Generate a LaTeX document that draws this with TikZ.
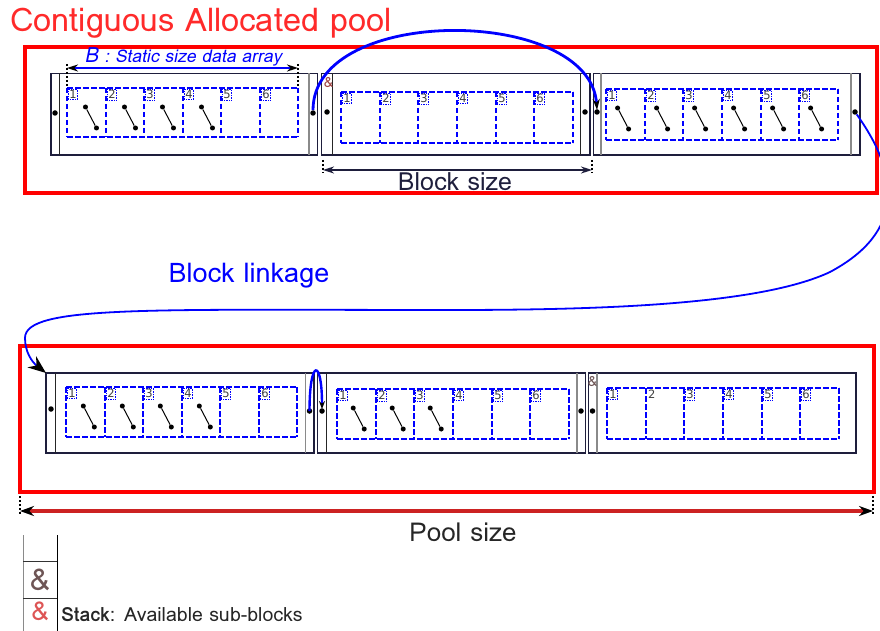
\documentclass[tikz,border=0pt]{standalone}
\usepackage{fontspec}
\usetikzlibrary{arrows.meta}
\newfontfamily\loma{Loma}
\newfontfamily\lomait[FakeSlant=0.2]{Loma}
\newfontfamily\dejavu{DejaVu Sans}
\definecolor{pred}{HTML}{FF0000}
\definecolor{tred}{HTML}{FF2A2A}
\definecolor{pblue}{HTML}{0000FF}
\definecolor{navy}{HTML}{1E1E3C}
\definecolor{ampc}{HTML}{A04545}
\definecolor{ampdark}{HTML}{6E5555}
\definecolor{ampred}{HTML}{DD5555}
\definecolor{poolred}{HTML}{CC2222}
\definecolor{linegray}{HTML}{8A8A8A}
\tikzset{
  poolbox/.style={draw=pred, line width=4pt, inner sep=0pt, outer sep=0pt, anchor=north west},
  blk/.style={draw=navy, line width=1.3pt, fill=white, inner sep=0pt, outer sep=0pt, anchor=north west},
  subline/.style={draw=pblue, line width=1.8pt, dash pattern=on 5.5pt off 2.5pt, line cap=butt},
  numbox/.style={draw=pblue, densely dotted, line width=0.7pt, inner sep=1pt, font=\dejavu\fontsize{11.5}{11.5}\selectfont, text=black!75, anchor=north west, fill=white},
  numplain/.style={inner sep=1pt, font=\dejavu\fontsize{11.5}{11.5}\selectfont, text=black!75, anchor=north west},
  bdot/.style={circle, fill=black, inner sep=0pt, minimum size=5.5pt},
  sdot/.style={circle, fill=black, inner sep=0pt, minimum size=5pt},
  darkline/.style={draw=black!85, line width=0.9pt},
  grayline/.style={draw=linegray, line width=1.1pt},
  dimdots/.style={draw=black, line width=2pt, dotted},
  bighead/.style={-{Stealth[black,length=18pt,width=14pt]}},
  amp/.style={font=\loma\fontsize{14}{14}\selectfont, text=ampc, inner sep=0pt},
}
% sub-block row: #1 prefix, #2 sx1, #3 sy1, #4 sx2, #5 sy2, #6 number of diagonals, #7 diag fraction, #8 index without box
\newcommand\subrow[8]{%
  \pgfmathsetmacro\sw{(#4-#2)/6}%
  \draw[subline] (#2,#3) -- (#4,#3);
  \draw[subline] (#2,#5) -- (#4,#5);
  \foreach \k in {0,...,6}{%
    \pgfmathsetmacro\xk{round(#2+\k*\sw)}%
    \draw[subline] (\xk,#3) -- (\xk,#5);
  }%
  \foreach \i in {1,...,6}{%
    \pgfmathsetmacro\xa{round(#2+(\i-1)*\sw)}%
    \ifnum\i=#8\relax
      \node[numplain] (#1n\i) at (\xa+1,#3+1) {\i};
    \else
      \node[numbox] (#1n\i) at (\xa+1,#3+1) {\i};
    \fi
    \ifnum\i>#6\relax\else
      \node[sdot] (#1p\i) at (\xa+#7*\sw,#3+19) {};
      \node[sdot] (#1q\i) at (\xa+#7*\sw+11,#3+40) {};
      \draw[line width=1pt] (#1p\i) -- (#1q\i);
    \fi
  }%
}
\newcommand\blockbox[5]{%
  \pgfmathsetmacro\bw{#4-#2}\pgfmathsetmacro\bh{#5-#3}%
  \node[blk, minimum width=\bw pt, minimum height=\bh pt] (#1) at (#2,#3) {};
}
\begin{document}
\begin{tikzpicture}[x=1pt,y=-1pt]
\useasboundingbox (0,0) rectangle (880,631);
\clip (0,0) rectangle (880,631);

% title
\node[anchor=west, text=tred, font=\loma\fontsize{32.5}{32.5}\selectfont, inner sep=0pt] (title) at (10,23) {Contiguous Allocated pool};

% pools
\node[poolbox, minimum width=852pt, minimum height=146pt] (toppool) at (25,47) {};
\node[poolbox, minimum width=854pt, minimum height=146pt] (botpool) at (20,346) {};

% ---------- top blocks ----------
\blockbox{B1}{51}{73.5}{317.5}{155}
\draw[darkline] (59,73.5) -- (59,155);
\draw[grayline] (309,73.5) -- (309,155);
\node[bdot] (B1l) at (55,113) {};
\node[bdot] (B1r) at (313,113) {};
\subrow{b1}{67}{88}{298}{137}{4}{0.48}{0}

\blockbox{B2}{321.5}{73.5}{590}{155}
\draw[darkline] (332,73.5) -- (332,155);
\draw[darkline] (580,73.5) -- (580,155);
\node[bdot] (B2l) at (327,112) {};
\node[bdot] (B2r) at (585,112) {};
\node[amp] (B2amp) at (328.5,83) {\&};
\subrow{b2}{341}{92}{573}{143}{0}{0.4}{0}

\blockbox{B3}{593.5}{73.5}{860}{155}
\draw[grayline] (601,73.5) -- (601,155);
\draw[grayline] (851,73.5) -- (851,155);
\node[bdot] (B3l) at (597,112) {};
\node[bdot] (B3r) at (855,112) {};
\subrow{b3}{606}{89}{838}{140}{6}{0.3}{0}

% B dimension
\coordinate (Bd1) at (67,68);
\coordinate (Bd2) at (298,68);
\draw[dimdots] (67,64) -- (67,88);
\draw[dimdots] (298,64) -- (298,88);
\draw[draw=pblue, line width=2.6pt, {Stealth[black,length=11pt,width=7pt]}-{Stealth[black,length=11pt,width=7pt]}] (Bd1) -- (Bd2);
\node[text=pblue, font=\lomait\fontsize{17.5}{17.5}\selectfont, inner sep=0pt] (Blabel) at (183,57) {{\fontsize{21}{21}\selectfont B} : Static size data array};

% Block size dimension
\coordinate (Bs1) at (323,170);
\coordinate (Bs2) at (592,170);
\draw[dimdots] (323,160) -- (323,173);
\draw[dimdots] (592,160) -- (592,173);
\draw[draw=navy, line width=2.4pt, {Stealth[navy,length=11pt,width=7pt]}-{Stealth[navy,length=11pt,width=7pt]}] (Bs1) -- (Bs2);
\node[text=navy, font=\loma\fontsize{25}{25}\selectfont, inner sep=0pt] (bsize) at (455,182) {Block size};

% top curve
\draw[draw=pblue, line width=2.8pt, -{Stealth[black,length=11pt,width=7pt]}] (B1r.north) .. controls (313,4) and (590,6) .. ([yshift=-1pt]B3l.north);

% ---------- bottom blocks ----------
\blockbox{A}{46}{373}{314}{453}
\draw[darkline] (55,373) -- (55,453);
\draw[grayline] (305.5,373) -- (305.5,453);
\node[bdot] (Al) at (51,409) {};
\node[bdot] (Ar) at (309.5,411) {};
\subrow{an}{66}{387}{297}{437}{4}{0.45}{0}

\blockbox{Bb}{317.5}{373}{585.5}{453}
\draw[darkline] (326,373) -- (326,453);
\draw[grayline] (577,373) -- (577,453);
\node[bdot] (Bbl) at (322,411) {};
\node[bdot] (Bbr) at (581,411) {};
\subrow{bn}{337}{389}{569}{439}{3}{0.42}{0}

\blockbox{C}{588.5}{373}{856}{453}
\draw[grayline] (597,373) -- (597,453);
\node[bdot] (Cl) at (592.5,411) {};
\node[amp, text=ampdark] (Camp) at (592.5,382) {\&};
\subrow{cn}{607}{388}{839}{439}{0}{0.4}{2}

% small loop
\draw[draw=pblue, line width=2.4pt, -{Stealth[black,length=8pt,width=6pt]}] ([yshift=-3pt]Ar.north) .. controls (309.5,358) and (322,358) .. ([yshift=-1pt]Bbl.north);

% block linkage
\draw[draw=pblue, line width=1.8pt, bighead] (B3r) .. controls (900,175) and (905,232) .. (830,272) .. controls (760,305) and (600,310) .. (450,310) .. controls (150,310) and (25,305) .. (25,338) .. controls (25,352) and (32,362) .. (A.north west);
\node[text=pblue, font=\loma\fontsize{27}{27}\selectfont, inner sep=0pt] (linkage) at (249,276) {Block linkage};

% pool size
\coordinate (Ps1) at (20,511);
\coordinate (Ps2) at (873,511);
\draw[dimdots] (20,496) -- (20,515);
\draw[dimdots] (873,496) -- (873,515);
\draw[draw=poolred, line width=4pt, {Stealth[black,length=14pt,width=10pt]}-{Stealth[black,length=14pt,width=10pt]}] (Ps1) -- (Ps2);
\node[text=black!85, font=\loma\fontsize{26}{26}\selectfont, inner sep=0pt] (psize) at (463,532) {Pool size};

% legend stack
\draw[draw=linegray, line width=1pt] (23,535) -- (23,631);
\draw[draw=black, line width=1pt] (57,535) -- (57,631);
\draw[draw=black!80, line width=1pt] (23,561) -- (57,561);
\draw[draw=black!80, line width=1pt] (23,598) -- (57,598);
\node[text=ampdark, font=\loma\fontsize{30}{30}\selectfont, inner sep=0pt] (amp1) at (40,580) {\&};
\node[text=ampred, font=\loma\fontsize{26}{26}\selectfont, inner sep=0pt] (amp2) at (40,611) {\&};
\node[anchor=base west, text=black!85, font=\loma\fontsize{19.5}{19.5}\selectfont, inner sep=0pt] (legend) at (61,621) {{\bfseries Stack}: Available sub-blocks};
\end{tikzpicture}
\end{document}
